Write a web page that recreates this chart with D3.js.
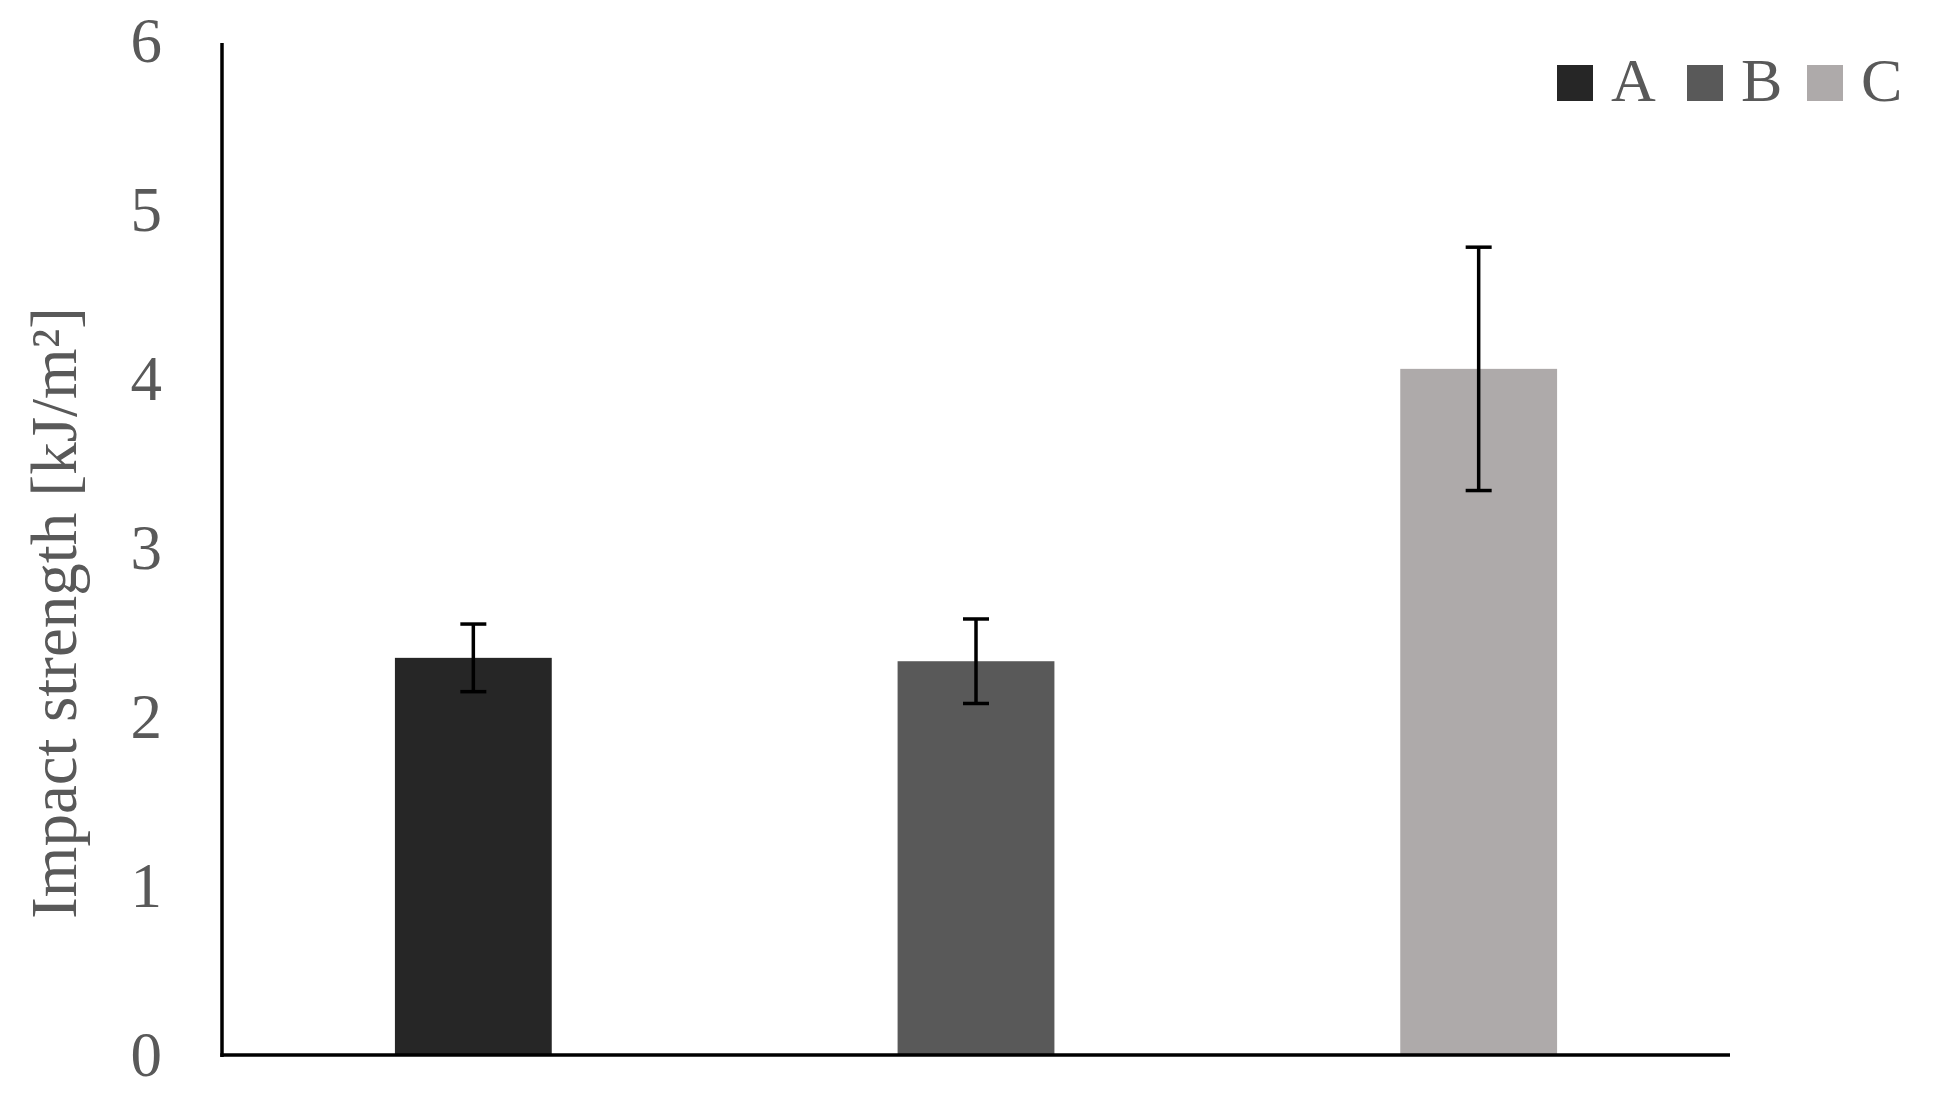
<!DOCTYPE html>
<html>
<head>
<meta charset="utf-8">
<script src="https://cdn.jsdelivr.net/npm/d3@7"></script>
<style>
  html, body { margin: 0; padding: 0; background: #fff; }
  svg text { font-family: "Liberation Serif", "Times New Roman", serif; fill: #595959; }
</style>
</head>
<body>
<svg id="chart" width="1946" height="1100"></svg>
<script>
const categories = ["A", "B", "C"];
const values = [2.35, 2.33, 4.06];
const errors = [0.20, 0.25, 0.72];
const colors = ["#262626", "#595959", "#AEAAAA"];
const yTicks = [0, 1, 2, 3, 4, 5, 6];
const yTitle = "Impact strength [kJ/m²]";

const svg = d3.select("#chart");
const plotLeft = 222, plotRight = 1730, plotTop = 41, plotBottom = 1055;

const x = d3.scaleBand().domain(categories).range([plotLeft, plotRight])
  .paddingInner(0.688).paddingOuter(0.344);
const y = d3.scaleLinear().domain([0, 6]).range([plotBottom, plotTop]);

// bars
svg.append("g").selectAll("rect").data(categories).join("rect")
  .attr("x", d => x(d))
  .attr("y", (d, i) => y(values[i]))
  .attr("width", x.bandwidth())
  .attr("height", (d, i) => y(0) - y(values[i]))
  .attr("fill", (d, i) => colors[i]);

// error bars
const eb = svg.append("g").attr("stroke", "#000").attr("stroke-width", 3.5);
categories.forEach((c, i) => {
  const cx = x(c) + x.bandwidth() / 2;
  const hi = y(values[i] + errors[i]), lo = y(values[i] - errors[i]);
  eb.append("line").attr("x1", cx).attr("x2", cx).attr("y1", hi).attr("y2", lo);
  eb.append("line").attr("x1", cx - 13).attr("x2", cx + 13).attr("y1", hi).attr("y2", hi);
  eb.append("line").attr("x1", cx - 13).attr("x2", cx + 13).attr("y1", lo).attr("y2", lo);
});

// y axis
const yAxis = svg.append("g").attr("transform", `translate(${plotLeft},0)`)
  .call(d3.axisLeft(y).tickValues(yTicks).tickFormat(d3.format("d")).tickSize(0).tickPadding(60));
yAxis.select(".domain").remove();
yAxis.selectAll("text").attr("font-size", 63).style("font-family", "Liberation Serif").attr("fill", "#595959");

// axis lines
svg.append("line").attr("x1", plotLeft).attr("x2", plotLeft).attr("y1", y(6) + 2).attr("y2", y(0) + 2)
  .attr("stroke", "#000").attr("stroke-width", 3.5);
svg.append("line").attr("x1", plotLeft - 1.75).attr("x2", plotRight).attr("y1", y(0)).attr("y2", y(0))
  .attr("stroke", "#000").attr("stroke-width", 3.5);

// y title
svg.append("text")
  .attr("transform", `translate(76,613) rotate(-90)`)
  .attr("text-anchor", "middle")
  .attr("font-size", 65)
  .text(yTitle);

// legend
const legendX = [1557, 1687, 1807];
const lg = svg.append("g");
categories.forEach((c, i) => {
  lg.append("rect").attr("x", legendX[i]).attr("y", 65).attr("width", 36).attr("height", 36).attr("fill", colors[i]);
  lg.append("text").attr("x", legendX[i] + 54).attr("y", 101).attr("font-size", 62).text(c);
});
</script>
</body>
</html>
